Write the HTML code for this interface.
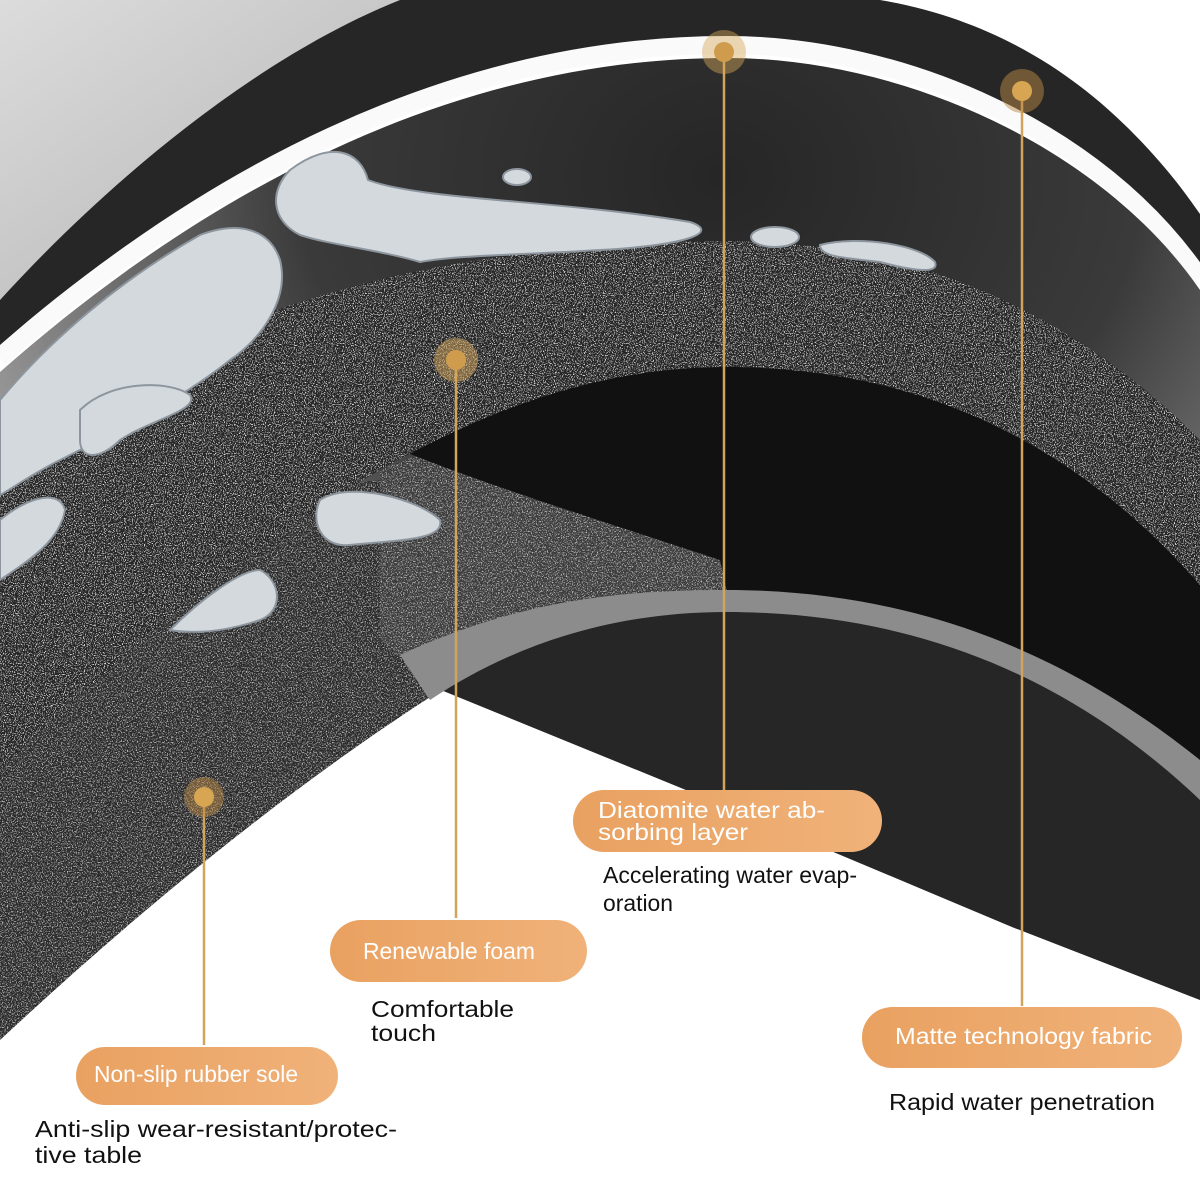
<!DOCTYPE html>
<html><head><meta charset="utf-8"><style>
html,body{margin:0;padding:0;background:#fff;}
svg{display:block;}
text{font-family:"Liberation Sans",Arial,sans-serif;}
</style></head><body>
<svg width="1200" height="1200" viewBox="0 0 1200 1200" xmlns="http://www.w3.org/2000/svg">
<defs>
<linearGradient id="lg" x1="0" y1="0" x2="1" y2="1">
<stop offset="0" stop-color="#dcdcdc"/><stop offset="1" stop-color="#b0b0b0"/></linearGradient>
<radialGradient id="inner" cx="0.6" cy="0.12" r="0.7">
<stop offset="0" stop-color="#262626"/><stop offset="0.5" stop-color="#3a3a3a"/><stop offset="1" stop-color="#a8a8a8"/></radialGradient>
<linearGradient id="pill" x1="0" y1="0" x2="1" y2="0">
<stop offset="0" stop-color="#e9a160"/><stop offset="1" stop-color="#f0b27a"/></linearGradient>
<filter id="noise" x="0" y="0" width="100%" height="100%">
<feTurbulence type="fractalNoise" baseFrequency="0.9" numOctaves="2" seed="3" result="t"/>
<feColorMatrix in="t" type="matrix" values="0 0 0 0 0.75  0 0 0 0 0.75  0 0 0 0 0.75  7 0 0 0 -3.9" result="s"/>
<feComposite in="s" in2="SourceGraphic" operator="in" result="sp"/>
<feMerge><feMergeNode in="SourceGraphic"/><feMergeNode in="sp"/></feMerge>
</filter>
<filter id="noise2" x="0" y="0" width="100%" height="100%">
<feTurbulence type="fractalNoise" baseFrequency="0.8" numOctaves="2" seed="7" result="t"/>
<feColorMatrix in="t" type="matrix" values="0 0 0 0 0.6  0 0 0 0 0.6  0 0 0 0 0.6  4 0 0 0 -2.1" result="s"/>
<feComposite in="s" in2="SourceGraphic" operator="in" result="sp"/>
<feMerge><feMergeNode in="SourceGraphic"/><feMergeNode in="sp"/></feMerge>
</filter>
</defs>
<rect width="1200" height="1200" fill="#fff"/>
<path d="M0,0 L440,0 C250,60 100,190 0,300 Z" fill="url(#lg)"/>
<path d="M400,0 L880,0 C1000,20 1080,80 1130,130 C1170,170 1190,200 1200,214 L1200,272 C1100,130 900,40 727,40 C450,40 200,170 0,345 L0,300 C100,190 250,60 400,0 Z" fill="#262626"/>
<path d="M0,358 C200,180 450,45 727,45 C900,45 1100,130 1200,278" fill="none" stroke="#fafafa" stroke-width="18"/>
<path d="M0,372 C200,195 450,58 727,58 C900,58 1100,145 1200,290 L1200,1000 L1012,927 L686,790 L441,690 C300,780 150,900 0,1040 Z" fill="url(#inner)"/>
<path d="M0,600 C200,500 350,470 480,480 L560,560 L441,690 C300,780 150,900 0,1040 Z" fill="#2a2a2a" filter="url(#noise2)"/>
<path d="M380,470 C500,420 620,400 727,400 L760,600 C620,600 520,630 441,690 L380,640 Z" fill="#3a3a3a" filter="url(#noise2)"/>
<path d="M441,690 C550,620 650,612 727,612 C950,612 1100,700 1200,790 L1200,1000 L1012,927 L686,790 Z" fill="#262626"/>
<path d="M400,450 C520,395 620,367 727,367 C950,367 1100,470 1200,585 L1200,790 C1100,700 950,592 727,592 L720,560 C600,520 500,490 400,450 Z" fill="#111"/>
<path d="M400,655 C520,600 620,590 727,590 C950,590 1100,680 1200,760 L1200,800 C1100,705 950,612 727,612 C620,612 520,640 430,700 Z" fill="#8c8c8c"/>
<path d="M0,470 C150,330 400,241 727,241 C950,241 1100,340 1200,440 L1200,585 C1100,470 950,367 727,367 C520,367 300,480 0,770 Z" fill="#262626" filter="url(#noise)"/>
<g fill="#d4d9de" stroke="#8d969e" stroke-width="2">
<path d="M290,170 C330,140 360,150 368,180 C420,200 560,200 690,222 C720,232 690,245 600,250 C520,255 460,255 420,262 C380,250 330,245 300,235 C270,220 270,190 290,170 Z"/>
<path d="M0,400 C50,340 120,280 200,235 C240,220 270,230 280,260 C290,300 260,340 230,360 C180,400 120,430 60,460 C30,475 10,490 0,495 Z"/>
<ellipse cx="517" cy="177" rx="14" ry="8"/>
<ellipse cx="775" cy="237" rx="24" ry="10"/>
<path d="M820,245 C860,235 920,245 935,262 C940,275 910,270 880,262 C850,258 820,258 820,245 Z"/>
<path d="M80,410 C110,380 170,380 190,395 C200,410 150,420 120,440 C100,460 80,460 80,440 Z"/>
<path d="M320,500 C350,480 420,500 440,520 C445,540 400,540 350,545 C320,548 310,520 320,500 Z"/>
<path d="M170,630 C200,600 240,570 260,570 C280,580 285,610 260,620 C230,630 200,635 170,630 Z"/>
<path d="M0,520 C30,495 60,490 65,510 C60,540 30,560 0,580 Z"/>
</g>
<g stroke="#d2a35a" stroke-width="2.5">
<line x1="724" y1="52" x2="724" y2="790"/>
<line x1="1022" y1="91" x2="1022" y2="1006"/>
<line x1="456" y1="360" x2="456" y2="918"/>
<line x1="204" y1="797" x2="204" y2="1045"/>
</g>
<g>
<circle cx="724" cy="52" r="22" fill="#d6a85c" opacity="0.45"/><circle cx="724" cy="52" r="10" fill="#cf9c4e"/>
<circle cx="1022" cy="91" r="22" fill="#b98a45" opacity="0.5"/><circle cx="1022" cy="91" r="10" fill="#d8a552"/>
<circle cx="456" cy="360" r="22" fill="#d6a85c" opacity="0.5"/><circle cx="456" cy="360" r="10" fill="#cf9c4e"/>
<circle cx="204" cy="797" r="20" fill="#b98a45" opacity="0.5"/><circle cx="204" cy="797" r="10" fill="#d8a552"/>
</g>
<rect x="573" y="790" width="309" height="62" rx="31" fill="url(#pill)"/>
<rect x="862" y="1007" width="320" height="61" rx="30" fill="url(#pill)"/>
<rect x="330" y="920" width="257" height="62" rx="31" fill="url(#pill)"/>
<rect x="76" y="1047" width="262" height="58" rx="29" fill="url(#pill)"/>
<g fill="#fff" font-size="23" lengthAdjust="spacingAndGlyphs">
<text x="598" y="818" textLength="227" lengthAdjust="spacingAndGlyphs">Diatomite water ab-</text>
<text x="598" y="840" textLength="150" lengthAdjust="spacingAndGlyphs">sorbing layer</text>
<text x="895" y="1044" textLength="257" lengthAdjust="spacingAndGlyphs">Matte technology fabric</text>
<text x="363" y="959" textLength="172" lengthAdjust="spacingAndGlyphs">Renewable foam</text>
<text x="94" y="1082" textLength="204" lengthAdjust="spacingAndGlyphs">Non-slip rubber sole</text>
</g>
<g fill="#111" font-size="23">
<text x="603" y="883" textLength="254" lengthAdjust="spacingAndGlyphs">Accelerating water evap-</text>
<text x="603" y="911" textLength="70" lengthAdjust="spacingAndGlyphs">oration</text>
<text x="371" y="1017" textLength="143" lengthAdjust="spacingAndGlyphs">Comfortable</text>
<text x="371" y="1041" textLength="65" lengthAdjust="spacingAndGlyphs">touch</text>
<text x="889" y="1110" textLength="266" lengthAdjust="spacingAndGlyphs">Rapid water penetration</text>
<text x="35" y="1137" textLength="362" lengthAdjust="spacingAndGlyphs">Anti-slip wear-resistant/protec-</text>
<text x="35" y="1163" textLength="107" lengthAdjust="spacingAndGlyphs">tive table</text>
</g>
</svg>
</body></html>
